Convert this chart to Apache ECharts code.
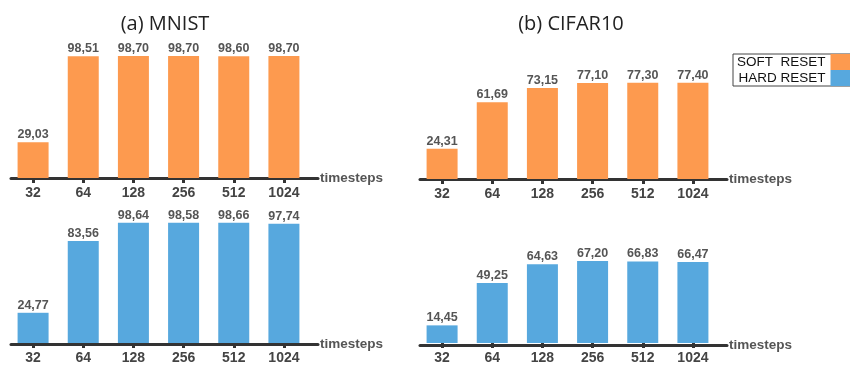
<!DOCTYPE html>
<html>
<head>
<meta charset="utf-8">
<script src="https://cdn.jsdelivr.net/npm/echarts@6/dist/echarts.min.js"></script>
<style>
  html, body { margin: 0; padding: 0; background: #fff; }
  #chart { width: 850px; height: 365px; }
</style>
</head>
<body>
<div id="chart"></div>
<script>
// Accuracy (%) per number of timesteps, soft vs. hard reset
const timesteps = ['32', '64', '128', '256', '512', '1024'];
const mnistSoft = [29.03, 98.51, 98.70, 98.70, 98.60, 98.70];
const mnistHard = [24.77, 83.56, 98.64, 98.58, 98.66, 97.74];
const cifarSoft = [24.31, 61.69, 73.15, 77.10, 77.30, 77.40];
const cifarHard = [14.45, 49.25, 64.63, 67.20, 66.83, 66.47];
const panelTitles = ['(a) MNIST', '(b) CIFAR10'];
const seriesNames = ['SOFT  RESET', 'HARD RESET'];

const ORANGE = '#FD9A4F';
const BLUE = '#57A8DE';

// panel rectangles: bar grids and the wider baseline grids beneath them
const panels = [
  { left: 8,   top: 54.5,  bottom: 178,   lineLeft: 11,  data: mnistSoft, name: seriesNames[0], color: ORANGE },
  { left: 8,   top: 221,   bottom: 344,   lineLeft: 11,  data: mnistHard, name: seriesNames[1], color: BLUE },
  { left: 417, top: 54.5,  bottom: 179,   lineLeft: 420, data: cifarSoft, name: seriesNames[0], color: ORANGE },
  { left: 417, top: 221,   bottom: 345.5, lineLeft: 420, data: cifarHard, name: seriesNames[1], color: BLUE }
];

const grid = [], xAxis = [], yAxis = [], series = [];

panels.forEach((p, i) => {
  // bar grid
  grid.push({ left: p.left, width: 301, top: p.top, height: p.bottom - p.top });
  // baseline grid
  grid.push({ left: p.lineLeft, width: 307, top: p.top, height: p.bottom - p.top });

  xAxis.push({
    type: 'category', gridIndex: 2 * i, data: timesteps,
    axisLine: { show: false },
    axisTick: { show: true, alignWithLabel: true, length: 5, lineStyle: { color: '#333', width: 3 } },
    axisLabel: { margin: 8, color: '#444', fontSize: 14, fontWeight: 'bold', fontFamily: 'Liberation Sans, Arial, sans-serif' }
  });
  xAxis.push({
    type: 'value', gridIndex: 2 * i + 1, min: 0, max: 1,
    axisLine: { show: true, lineStyle: { color: '#333', width: 3 } },
    axisTick: { show: false }, axisLabel: { show: false }, splitLine: { show: false },
    name: 'timesteps', nameLocation: 'end', nameGap: 2,
    nameTextStyle: { color: '#555', fontSize: 13.5, fontWeight: 'bold', fontFamily: 'Liberation Sans, Arial, sans-serif', verticalAlign: 'middle' }
  });
  yAxis.push({ type: 'value', gridIndex: 2 * i, min: 0, max: 100, show: false, splitLine: { show: false } });
  yAxis.push({ type: 'value', gridIndex: 2 * i + 1, min: 0, max: 100, show: false, splitLine: { show: false } });

  series.push({
    type: 'bar', name: p.name, xAxisIndex: 2 * i, yAxisIndex: 2 * i,
    data: p.data, barWidth: 31,
    itemStyle: { color: p.color },
    label: {
      show: true, position: 'top', distance: 1,
      color: '#555', fontSize: 12.5, fontWeight: 'bold',
      fontFamily: 'Liberation Sans, Arial, sans-serif',
      formatter: d => d.value.toFixed(2).replace('.', ',')
    },
    emphasis: { disabled: true }
  });
});

const chart = echarts.init(document.getElementById('chart'), null, { renderer: 'canvas' });
chart.setOption({
  animation: false,
  backgroundColor: '#fff',
  title: [
    { text: panelTitles[0], left: 160, top: 9, textAlign: 'center',
      textStyle: { fontFamily: 'Open Sans, sans-serif', fontWeight: 'normal', fontSize: 20, color: '#222' } },
    { text: panelTitles[1], left: 566, top: 9, textAlign: 'center',
      textStyle: { fontFamily: 'Open Sans, sans-serif', fontWeight: 'normal', fontSize: 20, color: '#222' } }
  ],
  legend: {
    data: seriesNames, orient: 'vertical', left: 733, top: 54,
    align: 'right', itemGap: 0, itemWidth: 20, itemHeight: 16,
    icon: 'rect', borderColor: '#444', borderWidth: 1,
    padding: [0, 30, 0, 4], selectedMode: false,
    textStyle: { color: '#111', fontSize: 13.5, fontFamily: 'Liberation Sans, Arial, sans-serif', width: 90, align: 'right', padding: [0, 0, 0, 0] }
  },
  grid, xAxis, yAxis, series
});
</script>
</body>
</html>
